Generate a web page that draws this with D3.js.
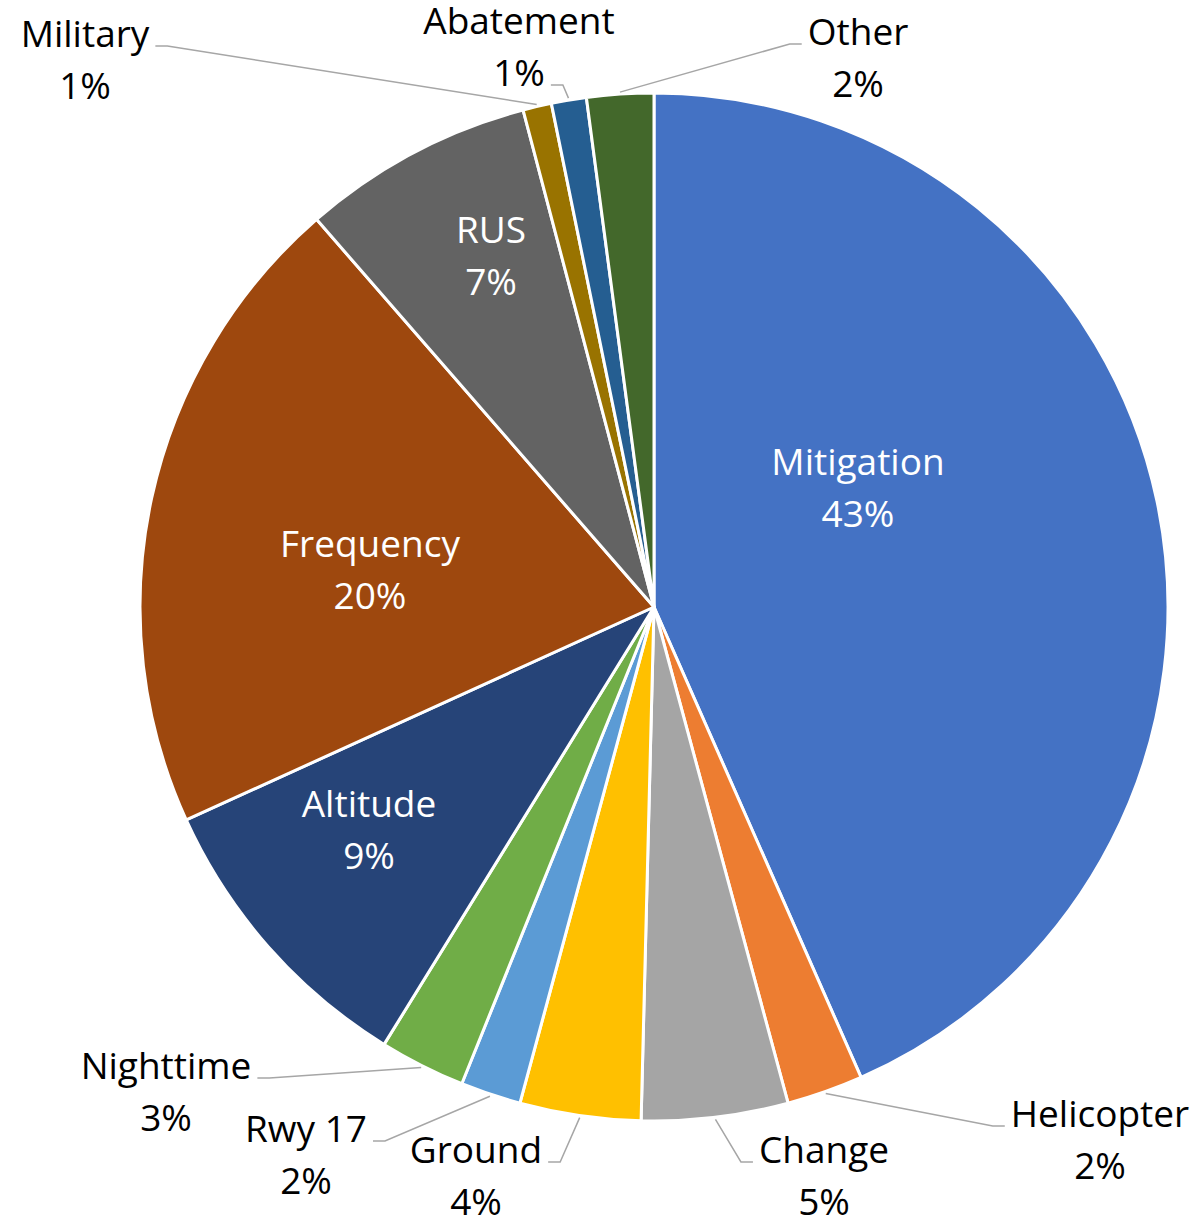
<!DOCTYPE html>
<html>
<head>
<meta charset="utf-8">
<title>Complaint categories</title>
<script src="https://d3js.org/d3.v7.min.js"></script>
<style>
  body { margin: 0; background: #fff; }
  text { font-family: "Open Sans", "Noto Sans", sans-serif; font-size: 37px; }
</style>
</head>
<body>
<div id="chart"></div>
<script>

// data
var categories = ["Mitigation", "Helicopter", "Change", "Ground", "Rwy 17", "Nighttime",
                  "Altitude", "Frequency", "RUS", "Military", "Abatement", "Other"];
var values = [43.4, 2.4, 4.6, 3.8, 1.9, 2.7, 9.4, 20.4, 7.3, 0.9, 1.1, 2.1];
var colors = ["#4472C4", "#ED7D31", "#A5A5A5", "#FFC000", "#5B9BD5", "#70AD47",
              "#264478", "#9E480E", "#636363", "#997300", "#255E91", "#43682B"];

// label layout: baseline of first line, inside or with a leader line
var labelPos = [
  {x: 858,  y: 475,  inside: true},
  {x: 1100, y: 1127, side: "left"},
  {x: 824,  y: 1163, side: "left"},
  {x: 476,  y: 1163, side: "right"},
  {x: 306,  y: 1142, side: "right"},
  {x: 166,  y: 1079, side: "right"},
  {x: 369,  y: 817,  inside: true},
  {x: 370,  y: 557,  inside: true},
  {x: 491,  y: 243,  inside: true},
  {x: 85,   y: 47,   side: "right"},
  {x: 519,  y: 34,   side: "right", line: 2},
  {x: 858,  y: 45,   side: "left"}
];

var width = 1197, height = 1220,
    cx = 654, cy = 607, radius = 514,
    lineGap = 52;

var data = categories.map(function(c, i) { return {name: c, value: values[i], i: i}; });
var total = d3.sum(values);
var pct = d3.format(".0%");

var svg = d3.select("#chart").append("svg")
    .attr("width", width)
    .attr("height", height);

var g = svg.append("g")
    .attr("transform", "translate(" + cx + "," + cy + ")");

var pie = d3.pie().sort(null).value(function(d) { return d.value; });
var arcs = pie(data);

var arc = d3.arc().innerRadius(0).outerRadius(radius);
var edge = d3.arc().innerRadius(radius + 2).outerRadius(radius + 2);

g.selectAll("path.slice")
    .data(arcs)
  .enter().append("path")
    .attr("class", "slice")
    .attr("d", arc)
    .attr("fill", function(d) { return colors[d.data.i]; })
    .attr("stroke", "#fff")
    .attr("stroke-width", 3)
    .attr("stroke-linejoin", "round");

// labels
var labels = svg.append("g");

arcs.forEach(function(d) {
  var p = labelPos[d.data.i];
  var t = labels.append("text")
      .attr("text-anchor", "middle")
      .attr("fill", p.inside ? "#fff" : "#000");
  t.append("tspan").attr("x", p.x).attr("y", p.y).text(d.data.name);
  var t2 = t.append("tspan").attr("x", p.x).attr("y", p.y + lineGap).text(pct(d.data.value / total));

  if (p.inside) return;

  // leader line from label edge to slice edge
  var w = (p.line == 2 ? t2 : t.select("tspan")).node().getComputedTextLength();
  var ly = (p.line == 2 ? p.y + lineGap : p.y) - 1;
  var x0 = p.side == "right" ? p.x + w / 2 + 6 : p.x - w / 2 - 6;
  var x1 = p.side == "right" ? x0 + 12 : x0 - 12;
  var a = edge.centroid(d);
  svg.append("polyline")
      .attr("points", [[x0, ly], [x1, ly], [a[0] + cx, a[1] + cy]].join(" "))
      .attr("fill", "none")
      .attr("stroke", "#A6A6A6")
      .attr("stroke-width", 1.5);
});

</script>
</body>
</html>
